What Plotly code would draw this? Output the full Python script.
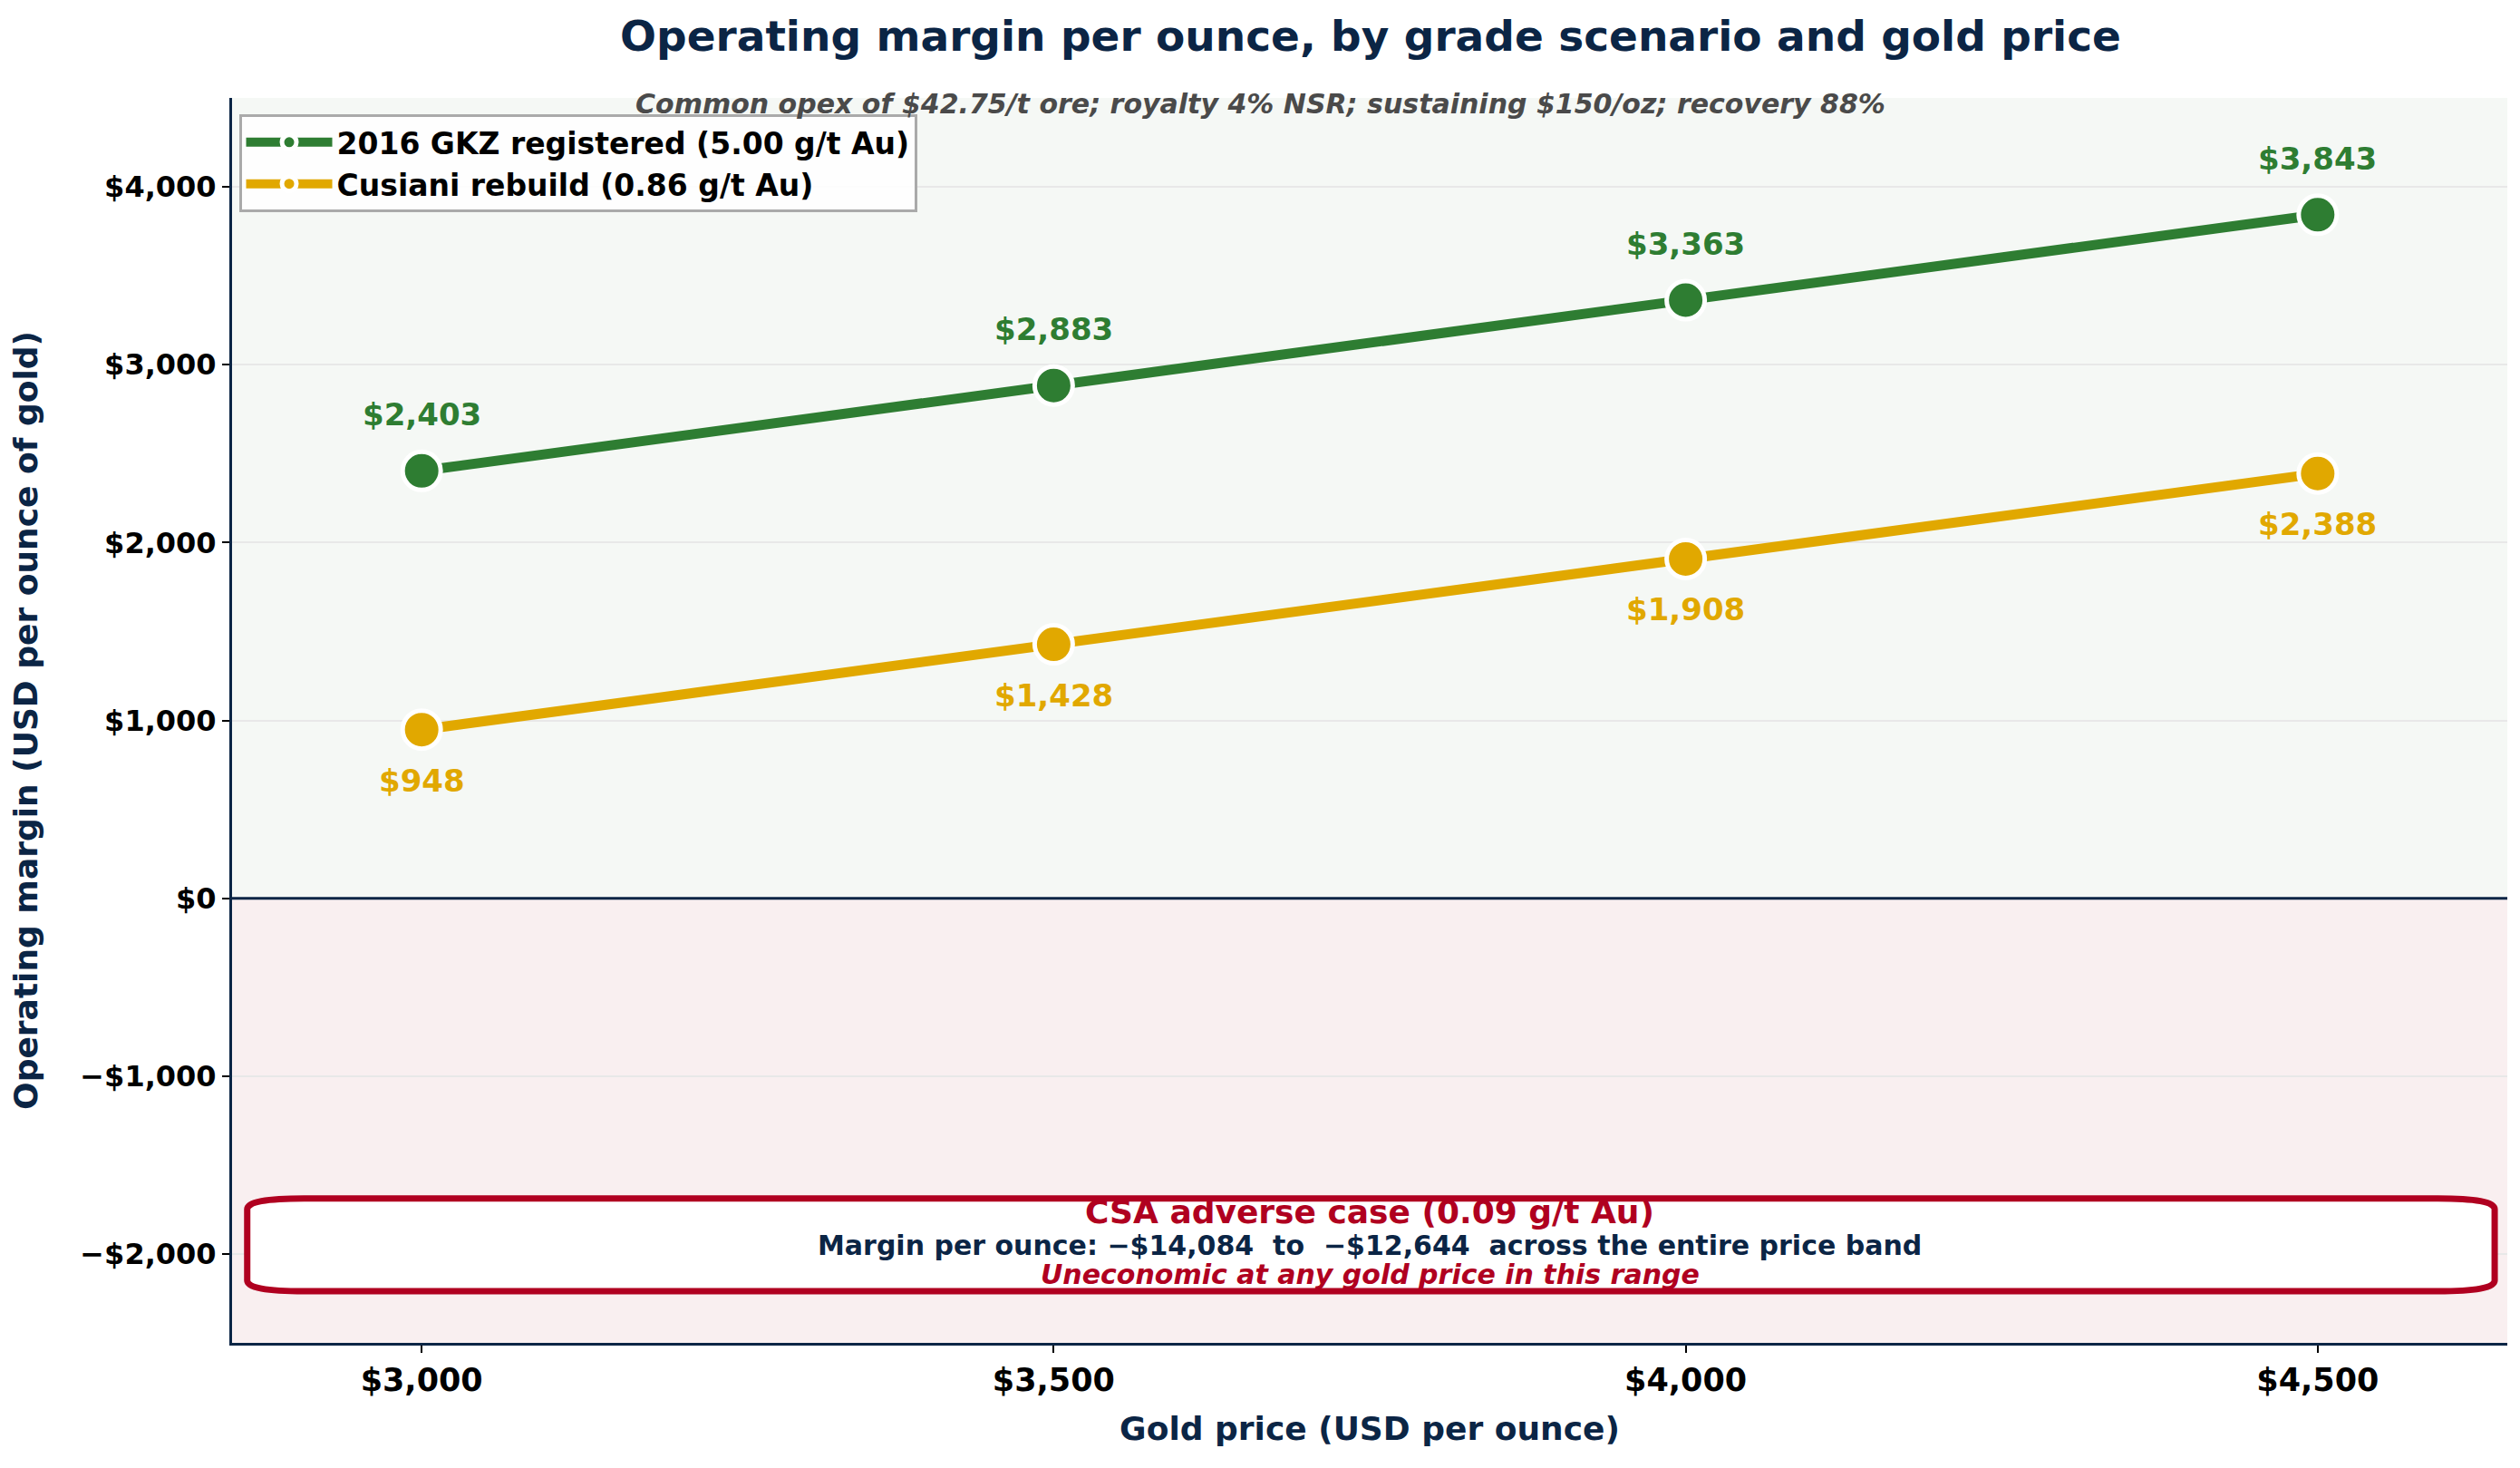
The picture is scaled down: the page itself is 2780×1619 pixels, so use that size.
import plotly.graph_objects as go

# gold price scenarios (USD/oz)
gold_price = [3000, 3500, 4000, 4500]

# operating margin per ounce for each grade case
gkz_margin = [2403, 2883, 3363, 3843]
cusiani_margin = [948, 1428, 1908, 2388]

series_names = ["2016 GKZ registered (5.00 g/t Au)", "Cusiani rebuild (0.86 g/t Au)"]

y_ticks = [-2000, -1000, 0, 1000, 2000, 3000, 4000]
y_ticktext = ["\u2212$2,000", "\u2212$1,000", "$0", "$1,000", "$2,000", "$3,000", "$4,000"]
x_ticktext = ["$3,000", "$3,500", "$4,000", "$4,500"]

csa_low, csa_high = -14084, -12644

NAVY = "#0b2545"
GREEN = "#2e7d32"
GOLD = "#e1a800"
RED = "#b00020"
FONT = "DejaVu Sans"

fig = go.Figure()

for name, vals, col in [(series_names[0], gkz_margin, GREEN), (series_names[1], cusiani_margin, GOLD)]:
    fig.add_trace(go.Scatter(
        x=gold_price, y=vals, name=name, mode="lines+markers",
        line=dict(color=col, width=11),
        marker=dict(size=42, color=col, line=dict(color="white", width=5)),
    ))

# value labels
annotations = []
for x, v in zip(gold_price, gkz_margin):
    annotations.append(dict(x=x, y=v, text=f"${v:,}", showarrow=False, yshift=62,
                            font=dict(family=FONT, size=34, color=GREEN, weight="bold")))
for x, v in zip(gold_price, cusiani_margin):
    annotations.append(dict(x=x, y=v, text=f"${v:,}", showarrow=False, yshift=-56,
                            font=dict(family=FONT, size=34, color=GOLD, weight="bold")))

# subtitle
annotations.append(dict(xref="paper", yref="paper", x=0.452, y=0.995, yanchor="middle",
                        text="<i>Common opex of $42.75/t ore; royalty 4% NSR; sustaining $150/oz; recovery 88%</i>",
                        showarrow=False, font=dict(family=FONT, size=30, color="#4a4a4a", weight="bold")))

# CSA adverse case box text
annotations.append(dict(xref="paper", x=0.5, y=-1762, text="CSA adverse case (0.09 g/t Au)", showarrow=False,
                        font=dict(family=FONT, size=36, color=RED, weight="bold")))
annotations.append(dict(xref="paper", x=0.5, y=-1951,
                        text=f"Margin per ounce: \u2212${-csa_low:,}  to  \u2212${-csa_high:,}  across the entire price band",
                        showarrow=False, font=dict(family=FONT, size=30, color=NAVY, weight="bold")))
annotations.append(dict(xref="paper", x=0.5, y=-2115, text="<i>Uneconomic at any gold price in this range</i>",
                        showarrow=False, font=dict(family=FONT, size=30, color=RED, weight="bold")))

# rounded box
bx0, bx1, by0, by1 = 2862, 4640, -2210, -1688
rx, ry = 45, 60
box_path = (f"M {bx0+rx},{by1} L {bx1-rx},{by1} Q {bx1},{by1} {bx1},{by1-ry} "
            f"L {bx1},{by0+ry} Q {bx1},{by0} {bx1-rx},{by0} L {bx0+rx},{by0} "
            f"Q {bx0},{by0} {bx0},{by0+ry} L {bx0},{by1-ry} Q {bx0},{by1} {bx0+rx},{by1} Z")

shapes = [
    dict(type="rect", xref="x domain", yref="y", x0=0, x1=1, y0=0, y1=4500,
         fillcolor="#f5f8f5", line_width=0, layer="below"),
    dict(type="rect", xref="x domain", yref="y", x0=0, x1=1, y0=-2500, y1=0,
         fillcolor="#f9eff0", line_width=0, layer="below"),
    dict(type="line", xref="x domain", yref="y", x0=0, x1=1, y0=0, y1=0,
         line=dict(color=NAVY, width=3), layer="above"),
    dict(type="path", path=box_path, xref="x", yref="y", fillcolor="white",
         line=dict(color=RED, width=7), layer="above"),
]

fig.update_layout(
    width=2780, height=1619,
    paper_bgcolor="white", plot_bgcolor="white",
    margin=dict(l=248, r=22, t=100, b=146),
    font=dict(family=FONT, color="black"),
    title=dict(text="Operating margin per ounce, by grade scenario and gold price",
               x=0.541, xanchor="center", y=1 - 32 / 1619, yanchor="middle",
               font=dict(family=FONT, size=47, color=NAVY, weight="bold")),
    legend=dict(x=0.003, y=0.987, xanchor="left", yanchor="top", itemwidth=95,
                bgcolor="rgba(255,255,255,0.85)", bordercolor="#aaaaaa", borderwidth=3,
                font=dict(family=FONT, size=33, color="black", weight="bold")),
    annotations=annotations,
    shapes=shapes,
)

fig.update_xaxes(range=[2850, 4650], tickvals=gold_price, ticktext=x_ticktext, automargin=False,
                 showgrid=False, zeroline=False, showline=True, linecolor=NAVY, linewidth=3,
                 ticks="outside", ticklen=8, tickwidth=1.5, tickcolor="black",
                 tickfont=dict(family=FONT, size=35, color="black", weight="bold"),
                 title=dict(text="Gold price (USD per ounce)", standoff=22,
                            font=dict(family=FONT, size=36, color=NAVY, weight="bold")))
fig.update_yaxes(range=[-2500, 4500], tickvals=y_ticks, ticktext=y_ticktext, automargin=False,
                 showgrid=True, gridcolor="#e8e8e8", gridwidth=1.5, zeroline=False,
                 showline=True, linecolor=NAVY, linewidth=3,
                 ticks="outside", ticklen=8, tickwidth=1.5, tickcolor="black",
                 tickfont=dict(family=FONT, size=32, color="black", weight="bold"),
                 title=dict(text="Operating margin (USD per ounce of gold)", standoff=38,
                            font=dict(family=FONT, size=36, color=NAVY, weight="bold")))

fig.write_html("out.html")
